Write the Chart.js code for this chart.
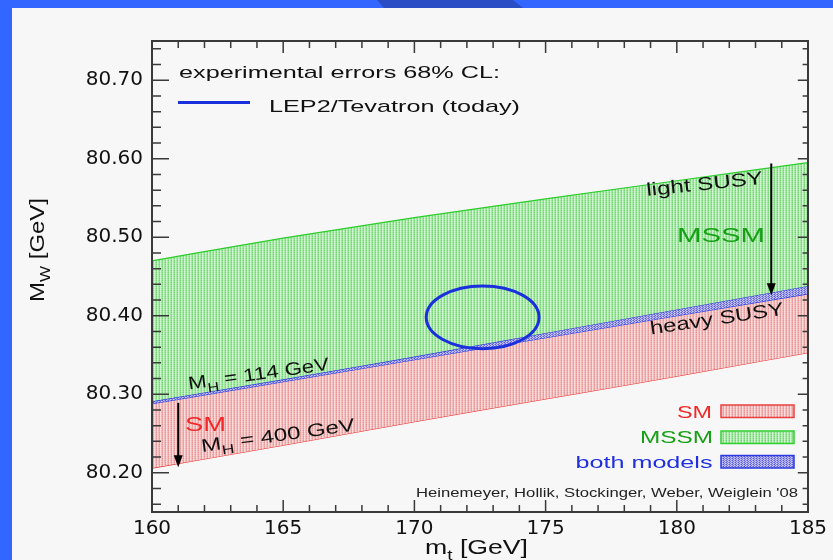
<!DOCTYPE html>
<html>
<head>
<meta charset="utf-8">
<script src="https://cdn.jsdelivr.net/npm/chart.js@4.4.1/dist/chart.umd.min.js"></script>
<style>
html,body{margin:0;padding:0;background:#f7f7f7;overflow:hidden;}
canvas{display:block;}
</style>
</head>
<body>
<canvas id="c" width="833" height="560"></canvas>
<script>
// ---------- data ----------
const mt = [160, 165, 170, 175, 180, 185];
const mssmUpper = [80.470, 80.499, 80.525, 80.549, 80.572, 80.595];
const mssmLower = [80.291, 80.319, 80.348, 80.378, 80.408, 80.438];
const smUpper   = [80.288, 80.316, 80.344, 80.372, 80.400, 80.428];
const smLower   = [80.206, 80.235, 80.265, 80.294, 80.323, 80.353];
const ellipseCenter = [172.6, 80.398];   // [m_t, M_W]
const ellipseRadius = [2.15, 0.040];     // [m_t, M_W]
const arrowMSSM = [183.6, 80.594, 80.426]; // [m_t, from M_W, to M_W]
const arrowSM   = [161.0, 80.289, 80.207];
const xTickLabels = [160, 165, 170, 175, 180, 185];
const yTickLabels = [80.20, 80.30, 80.40, 80.50, 80.60, 80.70];

// ---------- patterns ----------
function makePattern(rows){
  const c = document.createElement('canvas');
  c.height = rows.length; c.width = rows[0].length;
  const g = c.getContext('2d');
  rows.forEach((r,j)=>r.forEach((col,i)=>{g.fillStyle=col;g.fillRect(i,j,1,1);}));
  return g.createPattern(c,'repeat');
}
const greenPat = makePattern([
  ['#72d672','#c8f2c8','#a2e6a2'],
  ['#92e092','#d2f4d2','#b2eab2']]);
const redPat = makePattern([
  ['#ea9494','#f8d6d6','#f2baba'],
  ['#eeaaaa','#fadcdc','#f4c4c4']]);
const bluePat = makePattern([
  ['#5a5ada','#c0c0f2','#9090e6'],
  ['#a4a4ee','#7272e0','#ccccf4']]);

const pts = arr => mt.map((x,i)=>({x:x, y:arr[i]}));

// ---------- helpers ----------
function richText(ctx, segs, x, y, o){
  const size = o.size, fam = o.family || '"Liberation Sans", Arial, sans-serif';
  const fMain = size + 'px ' + fam, fSub = Math.round(size*0.72) + 'px ' + fam;
  ctx.save();
  let w = 0;
  segs.forEach(s=>{ctx.font = s.sub?fSub:fMain; s.w = ctx.measureText(s.t).width; w += s.w;});
  const sx = o.width ? o.width / w : 1;
  ctx.translate(x, y);
  if (o.angle) ctx.rotate(o.angle*Math.PI/180);
  ctx.scale(sx, 1);
  let cx = 0;
  if (o.align === 'right') cx = -w; else if (o.align === 'center') cx = -w/2;
  ctx.fillStyle = o.color || '#111';
  ctx.textBaseline = 'alphabetic';
  ctx.textAlign = 'left';
  segs.forEach(s=>{
    ctx.font = s.sub?fSub:fMain;
    ctx.fillText(s.t, cx, s.sub ? size*0.3 : 0);
    cx += s.w;
  });
  ctx.restore();
}
function txt(ctx, t, x, y, o){ richText(ctx, [{t:t}], x, y, o); }

const decor = {
  id:'decor',
  beforeDraw(chart){
    const c = chart.ctx;
    c.save();
    c.fillStyle = '#f7f7f7'; c.fillRect(0,0,833,560);
    c.fillStyle = '#3366ff';
    c.fillRect(0,0,833,8);
    c.fillRect(0,0,12,560);
    c.fillStyle = '#2a4cc4';
    c.beginPath(); c.moveTo(377,0); c.lineTo(513,0); c.lineTo(523,8); c.lineTo(384,8); c.closePath(); c.fill();
    c.restore();
  },
  afterDatasetsDraw(chart){
    const c = chart.ctx, xs = chart.scales.x, ys = chart.scales.y, a = chart.chartArea;
    c.save();
    // ellipse
    const ex = xs.getPixelForValue(ellipseCenter[0]), ey = ys.getPixelForValue(ellipseCenter[1]);
    const rx = xs.getPixelForValue(ellipseCenter[0]+ellipseRadius[0]) - ex;
    const ry = ey - ys.getPixelForValue(ellipseCenter[1]+ellipseRadius[1]);
    c.strokeStyle = '#1a30dc'; c.lineWidth = 3;
    c.beginPath(); c.ellipse(ex, ey, rx, ry, 0, 0, Math.PI*2); c.stroke();
    // arrows
    [arrowMSSM, arrowSM].forEach(ar=>{
      const px = xs.getPixelForValue(ar[0]), y0 = ys.getPixelForValue(ar[1]), y1 = ys.getPixelForValue(ar[2]);
      c.strokeStyle = '#000'; c.fillStyle = '#000'; c.lineWidth = 2;
      c.beginPath(); c.moveTo(px, y0); c.lineTo(px, y1-10); c.stroke();
      c.beginPath(); c.moveTo(px-4.5, y1-12); c.lineTo(px+4.5, y1-12); c.lineTo(px, y1); c.closePath(); c.fill();
    });
    // frame
    c.strokeStyle = '#3a3a3a'; c.lineWidth = 2;
    c.strokeRect(a.left, a.top, a.right-a.left, a.bottom-a.top);
    // ticks
    c.lineWidth = 1.5;
    c.beginPath();
    for (let v = 160; v <= 185; v++){
      const px = xs.getPixelForValue(v), L = (v%5===0)?12:7;
      c.moveTo(px, a.bottom); c.lineTo(px, a.bottom-L);
      c.moveTo(px, a.top); c.lineTo(px, a.top+L);
    }
    for (let k = 8016; k <= 8074; k += 2){
      const py = ys.getPixelForValue(k/100), L = (k%10===0)?17:9;
      c.moveTo(a.left, py); c.lineTo(a.left+L, py);
      c.moveTo(a.right, py); c.lineTo(a.right-L*0.6, py);
    }
    c.stroke();
    // legend boxes
    const boxes = [[405, redPat, '#e84040'], [431, greenPat, '#30d030'], [455.5, bluePat, '#2a3ae0']];
    boxes.forEach(b=>{
      c.fillStyle = b[1]; c.fillRect(721, b[0], 73, 12.5);
      c.strokeStyle = b[2]; c.lineWidth = 1.5; c.strokeRect(721, b[0], 73, 12.5);
    });
    c.restore();
    // texts
    txt(c, 'experimental errors 68% CL:', 179, 77.5, {size:17, width:321});
    c.save(); c.strokeStyle = '#1a30dc'; c.lineWidth = 3;
    c.beginPath(); c.moveTo(178, 102.5); c.lineTo(250, 102.5); c.stroke(); c.restore();
    txt(c, 'LEP2/Tevatron (today)', 269, 111.7, {size:17, width:251});
    txt(c, 'light SUSY', 647, 196, {size:18.5, width:117, angle:-6});
    txt(c, 'MSSM', 677, 242, {size:21, width:88, color:'#16a016'});
    txt(c, 'heavy SUSY', 651, 334.5, {size:18.5, width:135, angle:-8.5});
    richText(c, [{t:'M'},{t:'H',sub:true},{t:' = 114 GeV'}], 189, 389.5, {size:18, width:142, angle:-8});
    richText(c, [{t:'M'},{t:'H',sub:true},{t:' = 400 GeV'}], 202, 452, {size:18, width:155, angle:-8});
    txt(c, 'SM', 185, 431, {size:21, width:41, color:'#f02828'});
    txt(c, 'SM', 712, 417.7, {size:16.5, width:35, color:'#f02828', align:'right'});
    txt(c, 'MSSM', 713, 443.3, {size:16.5, width:73, color:'#16a016', align:'right'});
    txt(c, 'both models', 712.5, 467.7, {size:16.5, width:137, color:'#2030e0', align:'right'});
    txt(c, "Heinemeyer, Hollik, Stockinger, Weber, Weiglein '08", 798, 497, {size:13, width:382, color:'#222', align:'right'});
    richText(c, [{t:'m'},{t:'t',sub:true},{t:' [GeV]'}], 425, 554, {size:21, width:103});
    richText(c, [{t:'M'},{t:'W',sub:true},{t:' [GeV]'}], 44, 302, {size:21, width:104, angle:-90});
  }
};

const lineBase = {pointRadius:0, borderWidth:1.2, tension:0.4, cubicInterpolationMode:'monotone'};

new Chart(document.getElementById('c'), {
  type:'line',
  data:{
    datasets:[
      Object.assign({label:'MSSM upper', data:pts(mssmUpper), borderColor:'#2ccc2c', backgroundColor:greenPat, fill:'+1'}, lineBase),
      Object.assign({label:'MSSM lower', data:pts(mssmLower), borderColor:'#2a3ae0', backgroundColor:bluePat, fill:'+1'}, lineBase),
      Object.assign({label:'SM upper (MH=114)', data:pts(smUpper), borderColor:'#2a3ae0', backgroundColor:redPat, fill:'+1'}, lineBase),
      Object.assign({label:'SM lower (MH=400)', data:pts(smLower), borderColor:'#ee3030', fill:false}, lineBase)
    ]
  },
  options:{
    responsive:false,
    animation:false,
    layout:{padding:{left:0, top:41, right:25, bottom:0}},
    plugins:{legend:{display:false}, tooltip:{enabled:false}},
    scales:{
      x:{
        type:'linear', min:160, max:185,
        grid:{display:false, drawTicks:false},
        border:{display:false},
        afterBuildTicks: s => { s.ticks = xTickLabels.map(v=>({value:v})); },
        afterFit: s => { s.height = 48; },
        ticks:{padding:5, color:'#111', font:{family:'"DejaVu Sans", sans-serif', size:20}, callback:v=>String(v), maxRotation:0}
      },
      y:{
        type:'linear', min:80.15, max:80.75,
        grid:{display:false, drawTicks:false},
        border:{display:false},
        afterBuildTicks: s => { s.ticks = yTickLabels.map(v=>({value:v})); },
        afterFit: s => { s.width = 152; },
        ticks:{padding:9, color:'#111', font:{family:'"DejaVu Sans", sans-serif', size:20}, callback:v=>Number(v).toFixed(2)}
      }
    }
  },
  plugins:[decor]
});
</script>
</body>
</html>
